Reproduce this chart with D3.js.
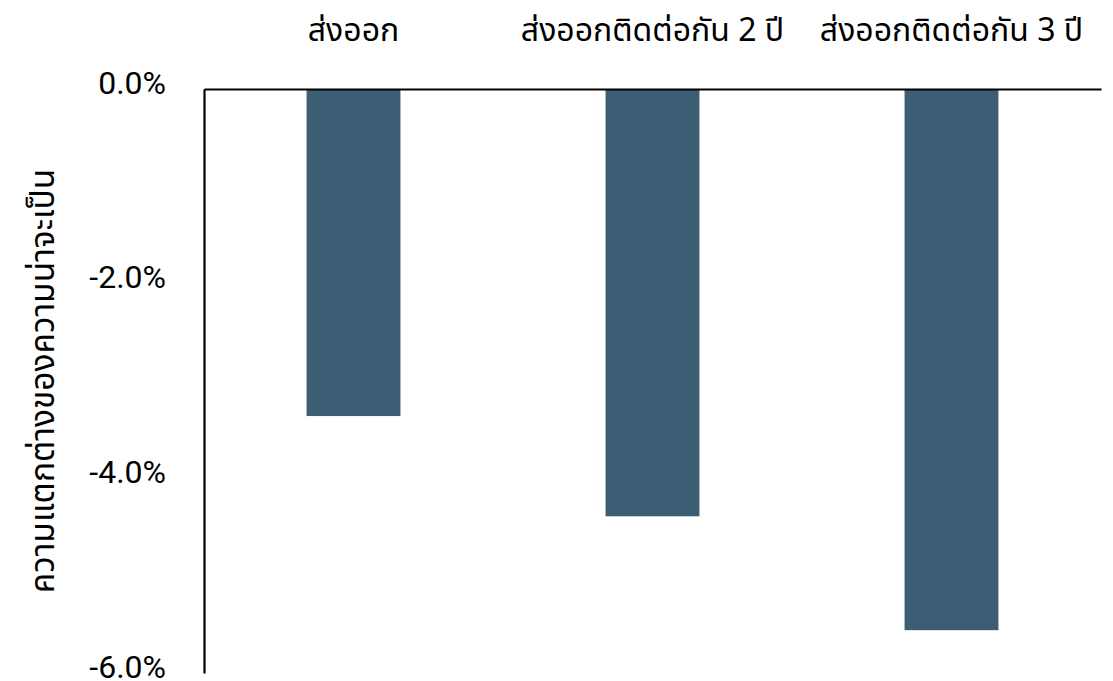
<!DOCTYPE html>
<html>
<head>
<meta charset="utf-8">
<script src="https://cdn.jsdelivr.net/npm/d3@7"></script>
<style>
  html, body { margin: 0; padding: 0; background: #fff; }
  svg { display: block; }
  .thai { font-family: "Noto Sans Thai", "Noto Sans", "DejaVu Sans", sans-serif; }
  .num { font-family: Roboto, "Liberation Sans", sans-serif; }
</style>
</head>
<body>
<svg id="chart" width="1113" height="681"></svg>
<script>
// Categories and values (percentage points)
const categories = ["ส่งออก", "ส่งออกติดต่อกัน 2 ปี", "ส่งออกติดต่อกัน 3 ปี"];
const values = [-3.36, -4.39, -5.56];
const yTicks = [0, -2, -4, -6];
const yTitle = "ความแตกต่างของความน่าจะเป็น";

const svg = d3.select("#chart");
const margin = { top: 89, left: 204, right: 12, bottom: 8 };
const W = 1113, H = 681;

const x = d3.scaleBand()
  .domain(categories)
  .range([margin.left, W - margin.right])
  .paddingInner(0.686)
  .paddingOuter(0.343);

const y = d3.scaleLinear()
  .domain([0, -6])
  .range([margin.top, 673]);

// Bars hanging from the zero line
svg.append("g")
  .selectAll("rect")
  .data(values)
  .join("rect")
  .attr("x", (d, i) => x(categories[i]))
  .attr("width", x.bandwidth())
  .attr("y", y(0))
  .attr("height", d => y(d) - y(0))
  .attr("fill", "#3c5e74");

// Zero line across the top (category axis)
const xAxis = d3.axisTop(x).tickSize(0).tickPadding(48);
const gx = svg.append("g")
  .attr("transform", `translate(0,${y(0)})`)
  .call(xAxis);
gx.select(".domain").attr("stroke", "#000").attr("stroke-width", 2.2);
gx.selectAll("text")
  .attr("class", "thai")
  .attr("font-size", 32)
  .attr("fill", "#000");

// Value axis
const yAxis = d3.axisLeft(y)
  .tickValues(yTicks)
  .tickSize(0)
  .tickPadding(38)
  .tickFormat(d => d3.format(".1f")(d).replace("−", "-") + "%");
const gy = svg.append("g")
  .attr("transform", `translate(${margin.left},0)`)
  .call(yAxis);
gy.select(".domain").attr("stroke", "#000").attr("stroke-width", 2.2);
gy.selectAll("text")
  .attr("class", "num")
  .attr("font-size", 32)
  .attr("dy", "0.32em")
  .attr("transform", "translate(0,-6)")
  .attr("fill", "#000");

// Axis title
svg.append("text")
  .attr("class", "thai")
  .attr("transform", `translate(54,${(y(0) + y(-6)) / 2}) rotate(-90)`)
  .attr("text-anchor", "middle")
  .attr("font-size", 33.5)
  .attr("fill", "#000")
  .text(yTitle);
</script>
</body>
</html>
